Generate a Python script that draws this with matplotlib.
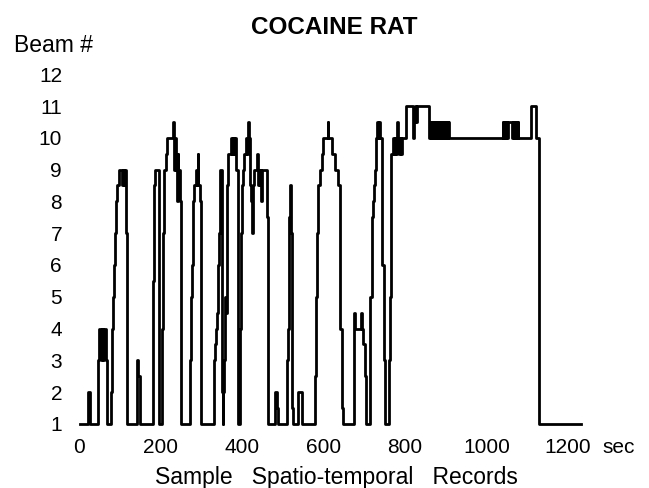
import matplotlib
matplotlib.use("Agg")
import matplotlib.pyplot as plt

plt.rcParams['font.family'] = ['Liberation Sans', 'DejaVu Sans']

# beam number held from each time (sec) until the next one
time_s = [4, 23, 28, 48, 50, 55, 58, 60, 62, 67, 70, 80, 82, 85, 87, 89, 92, 94, 99,
          107, 109, 112, 114, 116, 119, 143, 146, 151, 183, 185, 187, 197, 205, 206,
          207, 210, 214, 217, 232, 233, 234, 236, 239, 241, 243, 244, 245, 248, 251,
          273, 276, 278, 281, 283, 288, 290, 292, 293, 298, 300, 332, 335, 337, 339,
          342, 344, 347, 351, 352, 353, 354, 357, 359, 362, 364, 366, 374, 376, 379,
          381, 384, 386, 391, 396, 398, 401, 403, 406, 410, 413, 415, 416, 418, 420,
          423, 426, 428, 431, 437, 439, 440, 442, 445, 447, 448, 450, 461, 464, 482,
          487, 489, 511, 513, 516, 517, 518, 521, 524, 526, 539, 547, 580, 582, 585,
          588, 592, 596, 600, 611, 612, 621, 629, 637, 641, 645, 648, 676, 678, 692,
          694, 698, 702, 704, 714, 719, 721, 724, 727, 729, 732, 733, 737, 738, 743,
          745, 748, 751, 760, 763, 766, 771, 773, 776, 778, 781, 782, 786, 788, 790,
          793, 803, 820, 822, 825, 827, 830, 860,
          # dense 10 / 10.5 flicker after 860 sec
          861.5, 863, 864.5, 866, 867.5, 869, 870.5, 872, 873.5, 875, 876.5, 878,
          879.5, 881, 882.5, 884, 885.5, 887, 888.5, 890, 891.5, 893, 894.5, 896,
          897.5, 899, 900.5, 902, 903.5, 905, 906.5, 908,
          1040, 1041, 1042, 1043, 1044, 1045, 1046, 1047, 1048, 1049, 1050, 1051,
          1052, 1053, 1063, 1064, 1065, 1066, 1067, 1068, 1069, 1070, 1071, 1072,
          1073, 1074, 1075, 1076, 1077, 1078, 1108, 1121, 1128, 1232]
beam_no = [1, 2, 1, 3, 4, 3, 4, 3, 4, 3, 1, 2, 4, 5, 6, 7, 8, 8.5, 9,
           8.5, 9, 8.5, 9, 7, 1, 3, 2.5, 1, 5.5, 8.5, 9, 1, 4, 5.5,
           7, 9, 9.5, 10, 10.5, 10, 9, 10, 9, 8, 9, 9.5, 9, 8, 1,
           3, 5, 6, 8, 8.5, 9, 8.5, 9.5, 8.5, 8, 1, 3, 3.5, 4, 4.5,
           6, 7, 9, 3, 2, 1, 2, 3, 5, 4.5, 8.5, 9.5, 10, 9.5, 10,
           9.5, 10, 9, 1, 4, 7, 8.5, 9, 9.5, 10, 9.5, 10, 10.5, 10, 8.5,
           8, 7, 8.5, 9, 9.5, 9, 8.5, 9, 8.5, 9, 8, 9, 7.5, 1, 2,
           1.5, 1, 3, 4, 6, 7.5, 8.5, 7, 1.5, 1, 2, 1, 2.5, 5, 7,
           8.5, 9, 9.5, 10, 10.5, 10, 9.5, 9, 8.5, 4, 1.5, 1, 4.5, 4, 4.5,
           4, 3.5, 2.5, 1, 5, 7.5, 8, 8.5, 9, 10, 10.5, 10, 10.5, 10, 9,
           6, 3, 1, 3, 5, 9.5, 10, 9.5, 10, 9.5, 10.5, 10, 9.5, 10, 9.5,
           10, 11, 10, 10.5, 11, 10.5, 11, 10,
           10.5, 10, 10.5, 10, 10.5, 10, 10.5, 10, 10.5, 10, 10.5, 10,
           10.5, 10, 10.5, 10, 10.5, 10, 10.5, 10, 10.5, 10, 10.5, 10,
           10.5, 10, 10.5, 10, 10.5, 10, 10.5, 10,
           10.5, 10, 10.5, 10, 10.5, 10, 10.5, 10, 10.5, 10, 10.5, 10,
           10.5, 10.5, 10, 10.5, 10, 10.5, 10, 10.5, 10, 10.5, 10, 10.5,
           10, 10.5, 10, 10.5, 10, 10, 11, 10, 1, 1]

x_ticks = [0, 200, 400, 600, 800, 1000, 1200]
y_ticks = list(range(1, 13))

fig = plt.figure(figsize=(6.49, 4.88), dpi=100)
ax = fig.add_axes([0.1084, 0.1117, 0.7984, 0.7623])
ax.step(time_s, beam_no, where='post', color='black', lw=2.0)

ax.set_xlim(-20, 1250)
ax.set_ylim(0.7, 12.4)
ax.set_xticks(x_ticks)
ax.set_yticks(y_ticks)
ax.tick_params(length=0, labelsize=15)
ax.tick_params(axis='y', pad=6)
ax.tick_params(axis='x', pad=3)
for s in ax.spines.values():
    s.set_visible(False)

ax.annotate('sec', xy=(1200, 0), xycoords=('data', 'axes fraction'),
            xytext=(25, -3), textcoords='offset points', ha='left', va='top',
            fontsize=15)
fig.text(0.519, 0.008, 'Sample   Spatio-temporal   Records', ha='center',
         va='baseline', fontsize=16.5)
fig.text(0.515, 0.968, 'COCAINE RAT', ha='center', va='top',
         fontsize=17.5, fontweight='bold')
fig.text(0.022, 0.93, 'Beam #', ha='left', va='top', fontsize=16.5)

fig.savefig('out.png', dpi=100)
